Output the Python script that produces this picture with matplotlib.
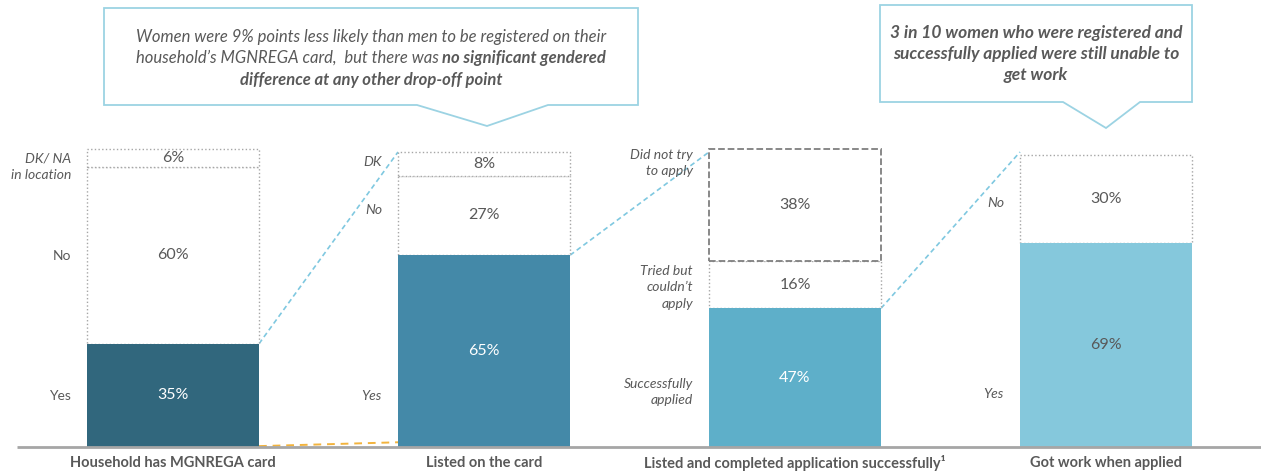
import matplotlib
matplotlib.use("Agg")
import matplotlib.pyplot as plt
from matplotlib.patches import Polygon

plt.rcParams['font.family'] = ['Lato', 'DejaVu Sans']

# data
categories = ["Household has MGNREGA card", "Listed on the card",
              "Listed and completed application successfully\u00b9", "Got work when applied"]
yes_vals = [35, 65, 47, 69]
mid_vals = [60, 27, 16, 30]
top_vals = [6, 8, 38, 0]
yes_labels = ["Yes", "Yes", "Successfully\napplied", "Yes"]
mid_labels = ["No", "No", "Tried but\ncouldn\u2019t\napply", "No"]
top_labels = ["DK/ NA\nin location", "DK", "Did not try\nto apply", ""]

# layout: y (in %) where the row labels sit
yes_label_y = [17.3, 17.3, 18.6, 18.0]
mid_label_y = [64.7, 80.3, 54.2, 82.7]
top_label_y = [95.0, 96.6, 96.3, 0]

bar_colors = ["#31677d", "#4489a8", "#5eafc9", "#85c8dc"]
yes_text_colors = ["white", "white", "white", "#595959"]
grey = "#595959"
link_blue = "#7fc8e0"

W, H = 1261, 471
fig = plt.figure(figsize=(W / 100, H / 100), dpi=100)
ax = fig.add_axes([0, 0, 1, 1])
px_per = 2.95
base_px = 447
ax.set_xlim(-173 / 311, (W - 173) / 311)
ax.set_ylim((base_px - H) / px_per, base_px / px_per)
ax.axis("off")

width = 172 / 311
for i, cat in enumerate(categories):
    left = i - width / 2
    right = i + width / 2
    y0, y1 = yes_vals[i], mid_vals[i]
    ax.bar(i, y0, width, color=bar_colors[i], linewidth=0, zorder=2)
    ax.bar(i, y1, width, bottom=y0, color="white", edgecolor="#a6a6a6",
           linestyle=":", linewidth=1, zorder=1)
    if top_vals[i]:
        dashed = i == 2
        ax.bar(i, top_vals[i], width, bottom=y0 + y1, color="white",
               edgecolor="#7f7f7f" if dashed else "#a6a6a6",
               linestyle="--" if dashed else ":",
               linewidth=1.3 if dashed else 1, zorder=1.5 if dashed else 1)

    # values
    ax.text(i, y0 / 2, f"{y0}%", ha="center", va="center", fontsize=11.5,
            color=yes_text_colors[i], zorder=3)
    ax.text(i, y0 + y1 / 2, f"{y1}%", ha="center", va="center", fontsize=11.5,
            color=grey, zorder=3)
    if top_vals[i]:
        ax.text(i, y0 + y1 + top_vals[i] / 2, f"{top_vals[i]}%", ha="center",
                va="center", fontsize=11.5, color=grey, zorder=3)

    # row labels
    style = "normal" if i == 0 else "italic"
    lx = left - 16 / 311
    ax.text(lx, yes_label_y[i], yes_labels[i], ha="right", va="center",
            fontsize=10, color=grey, style=style, linespacing=1.45)
    ax.text(lx, mid_label_y[i], mid_labels[i], ha="right", va="center",
            fontsize=10, color=grey, style=style, linespacing=1.45)
    if top_labels[i]:
        ax.text(lx, top_label_y[i], top_labels[i], ha="right", va="center",
                fontsize=10, color=grey, style="italic", linespacing=1.45)

    # category label
    ax.text(i, -5.3, cat, ha="center", va="center", fontsize=10.5,
            fontweight="bold", color=grey)

    # connector to next bar
    if i < len(categories) - 1:
        ax.plot([right, i + 1 - width / 2], [y0, 100], color=link_blue,
                linestyle=(0, (3, 2)), linewidth=1.2, zorder=0)

# orange link between the first two bars
ax.plot([0 + width / 2, 1 - width / 2], [0.3, 1.6], color="#f2b33d",
        linestyle=(0, (4, 3)), linewidth=1.4, zorder=4)

# baseline
ax.plot([(17 - 173) / 311, (W - 173) / 311], [0, 0], color="#a6a6a6",
        linewidth=2, zorder=5, solid_capstyle="butt")

# callouts, in pixel coordinates
ov = fig.add_axes([0, 0, 1, 1], facecolor="none")
ov.set_xlim(0, W)
ov.set_ylim(H, 0)
ov.axis("off")

box_col = "#9cd3e3"
pts1 = [(104, 8), (638, 8), (638, 105), (548, 105), (487, 126), (417, 105), (104, 105)]
pts2 = [(880, 5), (1192, 5), (1192, 102), (1140, 102), (1106, 128), (1063, 102), (880, 102)]
for pts in (pts1, pts2):
    ov.add_patch(Polygon(pts, closed=True, facecolor="white", edgecolor=box_col,
                         linewidth=1.3))

fs = 12
cx1 = (104 + 638) / 2
ov.text(cx1, 37, "Women were 9% points less likely than men to be registered on their",
        ha="center", va="center", fontsize=fs, style="italic", color=grey)
part_a = "household\u2019s MGNREGA card,  but there was "
part_b = "no significant gendered"
r = fig.canvas.get_renderer()
ta = ov.text(0, 58, part_a, ha="left", va="center", fontsize=fs, style="italic", color=grey)
tb = ov.text(0, 58, part_b, ha="left", va="center", fontsize=fs, style="italic",
             fontweight="bold", color=grey)
wa = ta.get_window_extent(r).width
wb = tb.get_window_extent(r).width
start = cx1 - (wa + wb) / 2
ta.set_x(start)
tb.set_x(start + wa)
ov.text(cx1, 80, "difference at any other drop-off point", ha="center", va="center",
        fontsize=fs, style="italic", fontweight="bold", color=grey)

cx2 = (880 + 1192) / 2
for yy, line in zip([33, 54, 75], ["3 in 10 women who were registered and",
                                   "successfully applied were still unable to",
                                   "get work"]):
    ov.text(cx2, yy, line, ha="center", va="center", fontsize=12.5, style="italic",
            fontweight="bold", color=grey)

fig.savefig("out.png", dpi=100)
